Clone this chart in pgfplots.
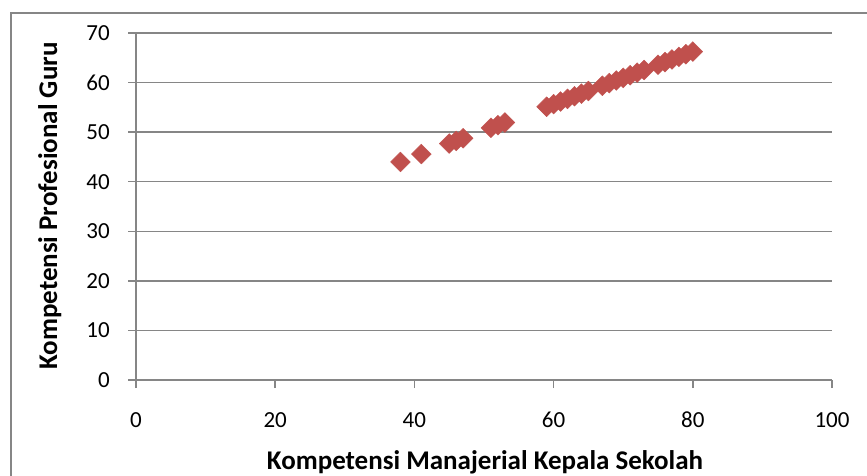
\documentclass[border=0pt]{standalone}
\usepackage{pgfplots}
\pgfplotsset{compat=1.18}
\usepackage{fontspec}
\setmainfont{Carlito}
\definecolor{gridgray}{HTML}{868686}
\definecolor{markred}{HTML}{C0504D}
\begin{document}
\begin{tikzpicture}[x=1pt,y=1pt]
\useasboundingbox (0,0) rectangle (867,-475);
% chart area border (top and left edges)
\draw[gridgray, line width=1.5pt] (11,-490) -- (11,-13) -- (890,-13);
\begin{axis}[
  at={(136pt,-380pt)}, anchor=south west,
  scale only axis, width=696pt, height=347pt,
  xmin=0, xmax=100, ymin=0, ymax=70,
  xtick={0,20,...,100}, ytick={0,10,...,70},
  axis x line*=bottom, axis y line*=left,
  axis line style={gridgray, line width=1.5pt, -},
  ymajorgrids, grid style={gridgray, line width=1.5pt},
  tick align=outside, major tick length=8pt,
  tick style={gridgray, line width=1.5pt},
  /pgf/number format/assume math mode=true,
  ticklabel style={font=\fontsize{23}{27}\selectfont, text=black},
  yticklabel style={anchor=east, inner sep=0pt, xshift=-18pt},
  xticklabel style={anchor=center, inner sep=0pt, yshift=-32pt},
  clip=false,
]
\addplot[only marks, mark=square*, mark size=7pt,
  mark options={rotate=45, fill=markred, draw=markred}]
coordinates {
(38,43.99) (41,45.58) (45,47.70) (46,48.23) (47,48.76)
(51,50.88) (52,51.41) (53,51.94)
(59,55.12) (60,55.65) (61,56.18) (62,56.71) (63,57.24) (64,57.77) (65,58.30)
(67,59.36) (68,59.89) (69,60.42) (70,60.95) (71,61.48) (72,62.01) (73,62.54)
(75,63.60) (76,64.13) (77,64.66) (78,65.19) (79,65.72) (80,66.25)
};
\end{axis}
% axis titles
\node[font=\fontsize{27}{32}\selectfont\bfseries, anchor=base, inner sep=0pt] at (485,-469) {Kompetensi Manajerial Kepala Sekolah};
\node[font=\fontsize{27}{32}\selectfont\bfseries, anchor=base, inner sep=0pt, rotate=90] at (57,-206) {Kompetensi Profesional Guru};
\end{tikzpicture}
\end{document}
